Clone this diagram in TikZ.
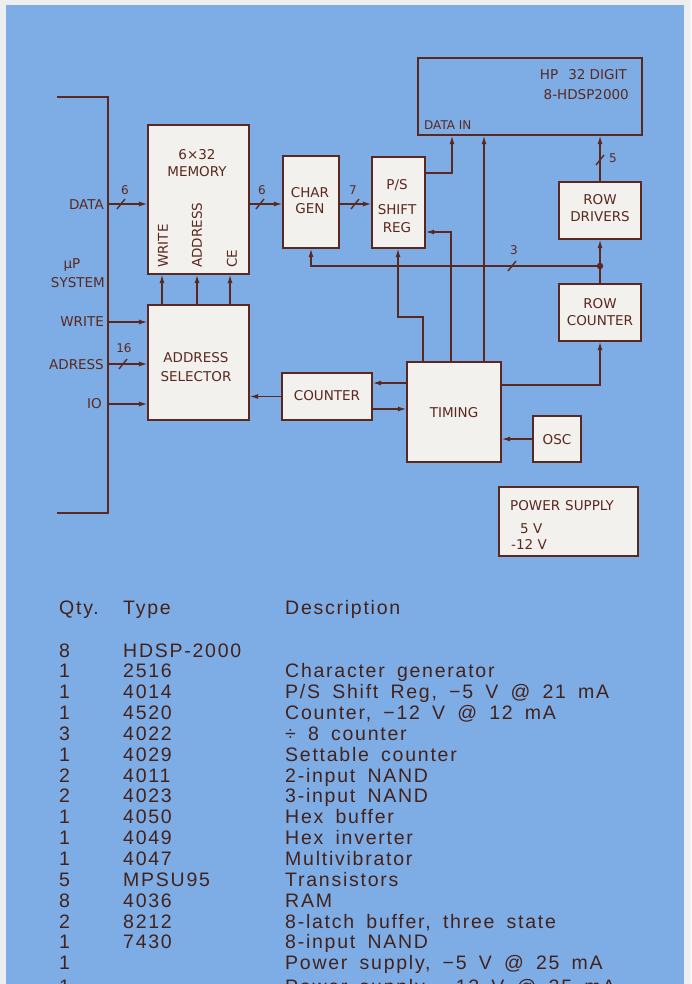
\documentclass[tikz,border=0pt]{standalone}
\usepackage{fontspec}
\setmainfont{DejaVu Sans}
\newfontfamily\tabfont[LetterSpace=9,WordSpace=1.7]{Liberation Sans}
\usetikzlibrary{arrows.meta}
\definecolor{bgblue}{RGB}{126,172,228}
\definecolor{edge}{RGB}{236,238,240}
\definecolor{ink}{RGB}{90,40,30}
\definecolor{tabink}{RGB}{68,34,28}
\definecolor{boxfill}{RGB}{243,241,237}
\newcommand\lblfont{\fontsize{13.5}{15}\selectfont}
\newcommand\smallfont{\fontsize{12}{14}\selectfont}
\newcommand\tabsize{\fontsize{19.5}{21}\selectfont\tabfont}
\newcommand\trow[4]{%
  \node[tab] (q#1) at (59,{657+20.85*#1}) {#2};
  \node[tab] (t#1) at (123,{657+20.85*#1}) {#3};
  \node[tab] (d#1) at (285,{657+20.85*#1}) {#4};}
\begin{document}
\begin{tikzpicture}[x=1pt,y=-1pt,
  wire/.style={draw=ink,line width=1.35pt},
  arr/.style={wire,-{Latex[length=8.5pt,width=5pt]}},
  blk/.style={draw=ink,line width=1.4pt,fill=boxfill,inner sep=0pt},
  lbl/.style={font=\lblfont,text=ink,inner sep=0pt},
  sml/.style={font=\smallfont,text=ink,inner sep=0pt},
  tab/.style={font=\tabsize,text=tabink,inner sep=0pt,anchor=base west}]
\useasboundingbox (0,0) rectangle (691,984);
\clip (0,0) rectangle (691,984);
\fill[edge] (0,0) rectangle (691,984);
\fill[bgblue] (6,5) rectangle (684,990);

% microprocessor bus
\coordinate (busTL) at (57,97);
\coordinate (busT) at (108,97);
\coordinate (busB) at (108,513);
\coordinate (busBL) at (57,513);
\draw[wire] (busTL) -- (busT) -- (busB) -- (busBL);

% blocks
\node[blk,minimum width=101pt,minimum height=149pt] (mem) at (198.5,199.5) {};
\node[blk,minimum width=56pt,minimum height=92pt] (cg) at (311,202) {};
\node[blk,minimum width=53pt,minimum height=91pt] (sr) at (398.5,202.5) {};
\node[draw=ink,line width=1.4pt,inner sep=0pt,minimum width=224pt,minimum height=77pt] (disp) at (530,96.5) {};
\node[blk,minimum width=82pt,minimum height=57pt] (rd) at (600,210.5) {};
\node[blk,minimum width=82pt,minimum height=57pt] (rc) at (600,312.5) {};
\node[blk,minimum width=101pt,minimum height=115pt] (asel) at (198.5,362.5) {};
\node[blk,minimum width=90pt,minimum height=47pt] (cnt) at (327,396.5) {};
\node[blk,minimum width=94pt,minimum height=100pt] (tim) at (454,412) {};
\node[blk,minimum width=48pt,minimum height=46pt] (osc) at (557,439) {};
\node[blk,minimum width=139pt,minimum height=69pt] (ps) at (568.5,521.5) {};

% block texts
\node[lbl] (memA) at (197,155) {6×32};
\node[lbl] (memB) at (197,172) {MEMORY};
\node[lbl,rotate=90,anchor=west] (memW) at (163,268) {WRITE};
\node[lbl,rotate=90,anchor=west] (memAd) at (197,268) {ADDRESS};
\node[lbl,rotate=90,anchor=west] (memC) at (232,268) {CE};
\node[lbl] (cgA) at (310,193) {CHAR};
\node[lbl] (cgB) at (310,209) {GEN};
\node[lbl] (srA) at (397,185) {P/S};
\node[lbl] (srB) at (397,210) {SHIFT};
\node[lbl] (srC) at (397,228) {REG};
\node[lbl,anchor=east] (dispA) at (627,75) {HP\hspace{10pt}32 DIGIT};
\node[lbl,anchor=east] (dispB) at (629,95) {8-HDSP2000};
\node[sml,anchor=west] (dispC) at (424,125) {DATA IN};
\node[lbl] (rdA) at (600,200) {ROW};
\node[lbl] (rdB) at (600,217) {DRIVERS};
\node[lbl] (rcA) at (600,304) {ROW};
\node[lbl] (rcB) at (600,321) {COUNTER};
\node[lbl] (asA) at (196,358) {ADDRESS};
\node[lbl] (asB) at (196,377) {SELECTOR};
\node[lbl] (cntA) at (327,396) {COUNTER};
\node[lbl] (timA) at (454,413) {TIMING};
\node[lbl] (oscA) at (557,440) {OSC};
\node[lbl,anchor=west] (psA) at (510,506) {POWER\hspace{5pt}SUPPLY};
\node[lbl,anchor=west] (psB) at (520,529) {5 V};
\node[lbl,anchor=west] (psC) at (511,544) {-12 V};

% bus labels
\node[lbl] (up) at (72,265) {µP};
\node[lbl,anchor=east] (sys) at (105,283) {SYSTEM};
\node[lbl,anchor=east] (lData) at (104,205) {DATA};
\node[lbl,anchor=east] (lWrite) at (104,322) {WRITE};
\node[lbl,anchor=east] (lAdr) at (104,365) {ADRESS};
\node[lbl,anchor=east] (lIO) at (102,404) {IO};

% bus inputs
\coordinate (pData) at (108,204);
\coordinate (pWrite) at (108,322);
\coordinate (pAdr) at (108,364);
\coordinate (pIO) at (108,404);
\draw[arr] (pData) -- (pData -| mem.west);
\draw[arr] (pWrite) -- (pWrite -| asel.west);
\draw[arr] (pAdr) -- (pAdr -| asel.west);
\draw[arr] (pIO) -- (pIO -| asel.west);
\draw[wire] (121,204) ++(-4,5) -- ++(8,-10);
\draw[wire] (123,364) ++(-4,5) -- ++(8,-10);
\node[sml] (n6a) at (125,190) {6};
\node[sml] (n16) at (124,348) {16};

% address selector to memory
\coordinate (x1) at (162,0);
\coordinate (x2) at (197,0);
\coordinate (x3) at (230,0);
\draw[arr] (asel.north -| x1) -- (mem.south -| x1);
\draw[arr] (asel.north -| x2) -- (mem.south -| x2);
\draw[arr] (asel.north -| x3) -- (mem.south -| x3);

% data path
\coordinate (yd) at (0,204);
\draw[arr] (mem.east |- yd) -- (cg.west |- yd);
\draw[wire] (260,204) ++(-4,5) -- ++(8,-10);
\node[sml] (n6b) at (262,190) {6};
\draw[arr] (cg.east |- yd) -- (sr.west |- yd);
\draw[wire] (355,204) ++(-4,5) -- ++(8,-10);
\node[sml] (n7) at (353,190) {7};

% shift register to display
\coordinate (ysr) at (0,173);
\coordinate (xdin) at (452,0);
\draw[arr] (sr.east |- ysr) -| (disp.south -| xdin);

% timing outputs
\coordinate (xt1) at (423,0);
\coordinate (xt2) at (451,0);
\coordinate (xt3) at (484,0);
\coordinate (xsb) at (398,0);
\coordinate (ybend) at (423,317);
\coordinate (ysrr) at (0,232);
\draw[arr] (tim.north -| xt3) -- (disp.south -| xt3);
\draw[arr] (tim.north -| xt2) |- (sr.east |- ysrr);
\draw[arr] (tim.north -| xt1) -- (ybend) -| (sr.south -| xsb);

% row path
\coordinate (jn) at (600,266);
\draw[arr] (rc.north) -- (rd.south);
\fill[ink] (jn) circle (3.2pt);
\draw[arr] (jn) -| (cg.south);
\draw[wire] (512,266) ++(-4,5) -- ++(8,-10);
\node[sml] (n3) at (514,250) {3};
\draw[arr] (rd.north) -- (disp.south -| rd.north);
\draw[wire] (600,160) ++(-4,5) -- ++(8,-10);
\node[sml] (n5) at (613,158) {5};
\coordinate (yrc) at (0,385);
\draw[arr] (tim.east |- yrc) -| (rc.south);

% osc, counter
\draw[arr] (osc.west) -- (osc.west -| tim.east);
\coordinate (yc1) at (0,383);
\coordinate (yc2) at (0,409);
\draw[arr] (tim.west |- yc1) -- (cnt.east |- yc1);
\draw[arr] (cnt.east |- yc2) -- (tim.west |- yc2);
\draw[arr] (cnt.west) -- (cnt.west -| asel.east);

% parts table
\node[tab] (hq) at (59,614) {Qty.};
\node[tab] (ht) at (123,614) {Type};
\node[tab] (hd) at (285,614) {Description};
\node[tab] (q0) at (59,657) {8};
\node[tab] (t0) at (123,657) {HDSP-2000};
\trow{1}{1}{2516}{Character generator}
\trow{2}{1}{4014}{P/S Shift Reg, −5 V @ 21 mA}
\trow{3}{1}{4520}{Counter, −12 V @ 12 mA}
\trow{4}{3}{4022}{÷ 8 counter}
\trow{5}{1}{4029}{Settable counter}
\trow{6}{2}{4011}{2-input NAND}
\trow{7}{2}{4023}{3-input NAND}
\trow{8}{1}{4050}{Hex buffer}
\trow{9}{1}{4049}{Hex inverter}
\trow{10}{1}{4047}{Multivibrator}
\trow{11}{5}{MPSU95}{Transistors}
\trow{12}{8}{4036}{RAM}
\trow{13}{2}{8212}{8-latch buffer, three state}
\trow{14}{1}{7430}{8-input NAND}
\node[tab] (q15) at (59,{657+20.85*15}) {1};
\node[tab] (d15) at (285,{657+20.85*15}) {Power supply, −5 V @ 25 mA};
\node[tab] (q16) at (59,{660+20.85*16}) {1};
\node[tab] (d16) at (285,{660+20.85*16}) {Power supply, −12 V @ 25 mA};
\end{tikzpicture}
\end{document}
